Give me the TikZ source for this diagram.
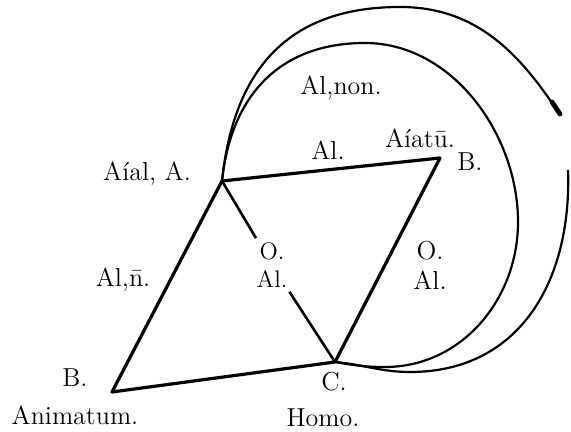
\documentclass[tikz,border=0pt]{standalone}
\usepackage{tikz}

\begin{document}
\begin{tikzpicture}[x=0.5pt,y=0.5pt,
	edge/.style={line width=1.6pt,line join=round},
	rim/.style={line width=1.1pt},
	lbl/.style={font=\fontsize{13}{15}\selectfont,inner sep=1pt},
	sml/.style={font=\fontsize{12}{14}\selectfont,inner sep=2pt,align=center}]
	\useasboundingbox (0,0) rectangle (571,432);
	% the four corners
	\coordinate (A) at (222,251);
	\coordinate (B) at (440,274);
	\coordinate (C) at (335,70);
	\coordinate (D) at (112,40);
	% labels
	\node[lbl] (animal) at (147,258) {A\'{\i}al, A.};
	\node[lbl] (alnon) at (341,344) {Al,non.};
	\node[lbl] (alab) at (328,282) {Al.};
	\node[lbl] (animatu) at (420,294) {A\'{\i}at\={u}.};
	\node[lbl] (bup) at (470,270) {B.};
	\node[lbl] (alad) at (123,152) {Al,\={n}.};
	\node[lbl] (bdown) at (75,54) {B.};
	\node[lbl] (animatum) at (75,17) {Animatum.};
	\node[lbl] (cdown) at (334,50) {C.};
	\node[lbl] (homo) at (323,14) {Homo.};
	\node[sml] (oac) at (272,167) {O.\\Al.};
	\node[sml,font=\fontsize{13}{15}\selectfont] (obc) at (430,167) {O.\\Al.};
	% straight lines
	\draw[edge] (A) -- (B) -- (C) -- (D) -- cycle;
	\draw[edge,line width=1.3pt] (A) -- (oac) -- (C);
	% the inner ring, from A round to C
	\draw[rim] (A) to[out=84,in=180,looseness=1.1] (365,389) to[out=0,in=90,looseness=0.95] (518,210) to[out=-90,in=0] (385,65) to[out=180,in=-10] (C);
	% the outer ring, in two pieces
	\draw[rim] (A) to[out=84,in=180,looseness=1.15] (400,425) to[out=0,in=123] (560,317);
	\draw[line width=2.4pt,line cap=round] (552,330) -- (560,318);
	\draw[rim] (568,262) to[out=-88,in=0,looseness=1.1] (410,60) to[out=180,in=-5] (C);
\end{tikzpicture}
\end{document}
